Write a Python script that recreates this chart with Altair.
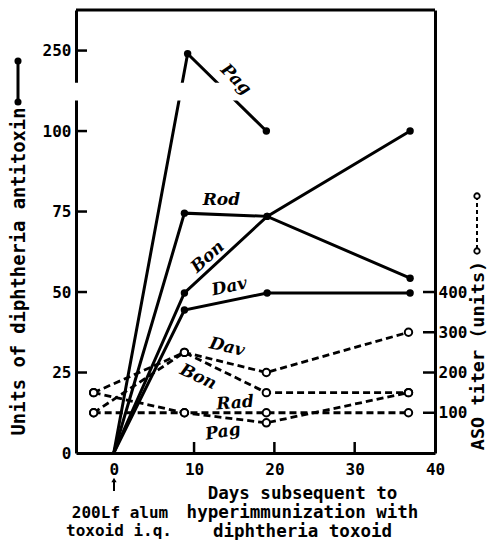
import altair as alt
import pandas as pd

# ---------------- data ----------------
# Diphtheria antitoxin units (solid lines, filled dots)
pag_days = [0, 9.2, 19]
pag_anti = [0, 245, 100]
anti_days = [0, 8.8, 19.1, 36.9]
rod_anti = [0, 74.5, 73.5, 54.3]
bon_anti = [0, 49.7, 73.5, 100]
dav_anti = [0, 44.4, 49.7, 49.7]

# ASO titer units (dashed lines, open circles)
aso_days = [-2.5, 8.8, 19, 36.7]
dav_aso = [150, 250, 200, 300]
bon_aso = [100, 250, 150, 150]
rad_aso = [150, 100, 100, 100]
pag_aso = [100, 100, 75, 150]

# axis ticks
left_tick_values = [0, 25, 50, 75, 100, 125]   # 125 sits above the axis break, labelled 250
right_tick_values = [100, 200, 300, 400]
x_tick_values = [0, 10, 20, 30, 40]
x_inner_ticks = [10, 20, 30]
break_lo = [109.5]
break_hi = [115.0]

# series labels
solid_label_text = ["Pag", "Rod", "Bon", "Dav"]
solid_label_day = [15.2, 13.4, 11.7, 14.4]
solid_label_val = [116, 78.6, 60.9, 51.6]
solid_label_angle = [45, 0, 318, 348]

dash_label_text = ["Dav", "Bon", "Rad", "Pag"]
dash_label_day = [14.1, 10.5, 15.1, 13.6]
dash_label_val = [263, 189, 124, 52]
dash_label_angle = [13, 25, 356, 351]

# ---------------- tables ----------------
rows = []
for name, days, vals in [("Pag", pag_days, pag_anti), ("Rod", anti_days, rod_anti),
                         ("Bon", anti_days, bon_anti), ("Dav", anti_days, dav_anti)]:
    for i, (d, v) in enumerate(zip(days, vals)):
        rows.append({"series": name, "idx": i, "day": d, "v": v})
anti_df = pd.DataFrame(rows)

rows = []
for name, vals in [("Dav", dav_aso), ("Bon", bon_aso), ("Rad", rad_aso), ("Pag", pag_aso)]:
    for i, (d, v) in enumerate(zip(aso_days, vals)):
        rows.append({"series": name, "idx": i, "day": d, "aso": v})
aso_df = pd.DataFrame(rows)

solid_lab_df = pd.DataFrame({"t": solid_label_text, "day": solid_label_day,
                             "v": solid_label_val, "a": solid_label_angle})
dash_lab_df = pd.DataFrame({"t": dash_label_text, "day": dash_label_day,
                            "aso": dash_label_val, "a": dash_label_angle})

W, H = 359, 443
MONO = "DejaVu Sans Mono"
LABF = "DejaVu Serif"

xscale = alt.Scale(domain=[-4.7, 40], nice=False, zero=False)
yscale = alt.Scale(domain=[0, 137.6], nice=False, zero=False)
ascale = alt.Scale(domain=[0, 1100.8], nice=False, zero=False)

xaxis = alt.Axis(values=x_tick_values, tickSize=0, ticks=False, domainWidth=3, domainColor="black",
                 labelPadding=8, labelFlush=False, labelOverlap=False, grid=False,
                 title=["Days subsequent to", "hyperimmunization with", "diphtheria toxoid"],
                 titleX=226, titleY=40, titleAlign="center", titleBaseline="middle",
                 titleLineHeight=19.2, titleFontSize=17.5)
yaxis = alt.Axis(values=left_tick_values,
                 labelExpr="datum.value == 125 ? '250' : datum.label",
                 tickSize=0, ticks=False, domainWidth=3, domainColor="black", labelPadding=5,
                 grid=False, title="Units of diphtheria antitoxin", titleAngle=270,
                 titleX=-58, titleY=261, titleAlign="center", titleBaseline="middle",
                 titleFontSize=18.8)
raxis = alt.Axis(orient="right", values=right_tick_values, tickSize=0, ticks=False,
                 domainWidth=3, domainColor="black", labelPadding=3, grid=False,
                 title="ASO titer (units)", titleAngle=270, titleX=42, titleY=345,
                 titleAlign="center", titleBaseline="middle", titleFontSize=18.5)

disp = "datum.v > 150 ? 125 + (datum.v - 250) / 5 : datum.v"
base_anti = alt.Chart(anti_df).transform_calculate(disp=disp)

solid_lines = base_anti.mark_line(color="black", strokeWidth=3).encode(
    x=alt.X("day:Q", scale=xscale, axis=xaxis),
    y=alt.Y("disp:Q", scale=yscale, axis=yaxis),
    detail="series:N", order="idx:Q")

solid_pts = base_anti.transform_filter("datum.day > 0").mark_circle(
    color="black", size=55, opacity=1).encode(
    x=alt.X("day:Q", scale=xscale),
    y=alt.Y("disp:Q", scale=yscale))

band = alt.Chart(pd.DataFrame({"lo": break_lo, "hi": break_hi})).mark_rect(
    color="white", opacity=1).encode(
    x=alt.value(-4), x2=alt.value(200),
    y=alt.Y("lo:Q", scale=yscale), y2="hi:Q")

solid_labels = alt.Chart(solid_lab_df).mark_text(
    font=LABF, fontSize=17, fontStyle="italic", fontWeight="bold", color="black",
    align="center", baseline="middle").encode(
    x=alt.X("day:Q", scale=xscale),
    y=alt.Y("v:Q", scale=yscale),
    text="t:N", angle=alt.Angle("a:Q", scale=None))

left_ticks = alt.Chart(pd.DataFrame({"v": left_tick_values[1:]})).mark_rule(
    color="black", strokeWidth=2.5).encode(
    x=alt.value(0), x2=alt.value(11), y=alt.Y("v:Q", scale=yscale))

bottom_ticks = alt.Chart(pd.DataFrame({"d": x_inner_ticks})).mark_rule(
    color="black", strokeWidth=2.5).encode(
    x=alt.X("d:Q", scale=xscale), y=alt.value(H), y2=alt.value(H - 11))

one = pd.DataFrame({"k": [0]})
top_rule = alt.Chart(one).mark_rule(color="black", strokeWidth=3).encode(
    x=alt.value(0), x2=alt.value(W), y=alt.value(0))

# legend glyph next to the left title
leg_l_line = alt.Chart(one).mark_rule(color="black", strokeWidth=3).encode(
    x=alt.value(-58), y=alt.value(51), y2=alt.value(92))
leg_l_p1 = alt.Chart(one).mark_circle(color="black", size=50, opacity=1).encode(
    x=alt.value(-58), y=alt.value(51))
leg_l_p2 = alt.Chart(one).mark_circle(color="black", size=50, opacity=1).encode(
    x=alt.value(-58), y=alt.value(92))

# legend glyph next to the right title
leg_r_line = alt.Chart(one).mark_rule(color="black", strokeWidth=2, strokeDash=[4, 3]).encode(
    x=alt.value(401), y=alt.value(186), y2=alt.value(241))
leg_r_p1 = alt.Chart(one).mark_point(shape="circle", fill="white", stroke="black", strokeWidth=1.8,
                                      size=30, opacity=1, filled=True).encode(
    x=alt.value(401), y=alt.value(186))
leg_r_p2 = alt.Chart(one).mark_point(shape="circle", fill="white", stroke="black", strokeWidth=1.8,
                                      size=30, opacity=1, filled=True).encode(
    x=alt.value(401), y=alt.value(241))

# arrow under day 0 (shaft + head)
arrow_shaft = alt.Chart(one).mark_rule(color="black", strokeWidth=2).encode(
    x=alt.value(38), y=alt.value(471), y2=alt.value(481))
arrow_head = alt.Chart(one).mark_point(shape="triangle-up", filled=True, color="black",
                                       size=28, opacity=1).encode(
    x=alt.value(38), y=alt.value(470))

ann_style = dict(font=MONO, fontWeight="bold", color="black", align="center", baseline="middle")
ann1 = alt.Chart(one).mark_text(fontSize=16, **ann_style).encode(
    x=alt.value(44), y=alt.value(503), text=alt.value("200Lf alum"))
ann2 = alt.Chart(one).mark_text(fontSize=16, **ann_style).encode(
    x=alt.value(43), y=alt.value(521), text=alt.value("toxoid i.q."))

left_group = alt.layer(solid_lines, solid_pts, band, solid_labels, left_ticks, bottom_ticks,
                       top_rule, leg_l_line, leg_l_p1, leg_l_p2, leg_r_line, leg_r_p1, leg_r_p2,
                       arrow_shaft, arrow_head, ann1, ann2)

dash_lines = alt.Chart(aso_df).mark_line(color="black", strokeWidth=2.8, strokeDash=[7, 4]).encode(
    x=alt.X("day:Q", scale=xscale),
    y=alt.Y("aso:Q", scale=ascale, axis=raxis),
    detail="series:N", order="idx:Q")

open_pts = alt.Chart(aso_df).mark_point(shape="circle", fill="white", stroke="black",
                                        strokeWidth=2, size=55, opacity=1, filled=True).encode(
    x=alt.X("day:Q", scale=xscale),
    y=alt.Y("aso:Q", scale=ascale))

dash_labels = alt.Chart(dash_lab_df).mark_text(
    font=LABF, fontSize=17, fontStyle="italic", fontWeight="bold", color="black",
    align="center", baseline="middle").encode(
    x=alt.X("day:Q", scale=xscale),
    y=alt.Y("aso:Q", scale=ascale),
    text="t:N", angle=alt.Angle("a:Q", scale=None))

right_ticks = alt.Chart(pd.DataFrame({"aso": right_tick_values})).mark_rule(
    color="black", strokeWidth=2.5).encode(
    x=alt.value(W - 12), x2=alt.value(W), y=alt.Y("aso:Q", scale=ascale))

right_group = alt.layer(dash_lines, open_pts, dash_labels, right_ticks)

chart = alt.layer(left_group, right_group).resolve_scale(y="independent").properties(
    width=W, height=H,
    autosize=alt.AutoSizeParams(type="none"),
    padding={"left": 68, "top": 2, "right": 52, "bottom": 87},
    background="white",
).configure_view(stroke=None).configure_axis(
    labelFont=MONO, labelFontSize=16, labelFontWeight="bold", labelColor="black",
    titleFont=MONO, titleFontWeight="bold", titleColor="black", grid=False)

chart.save("out.html", embed_options={"renderer": "svg", "actions": False})
